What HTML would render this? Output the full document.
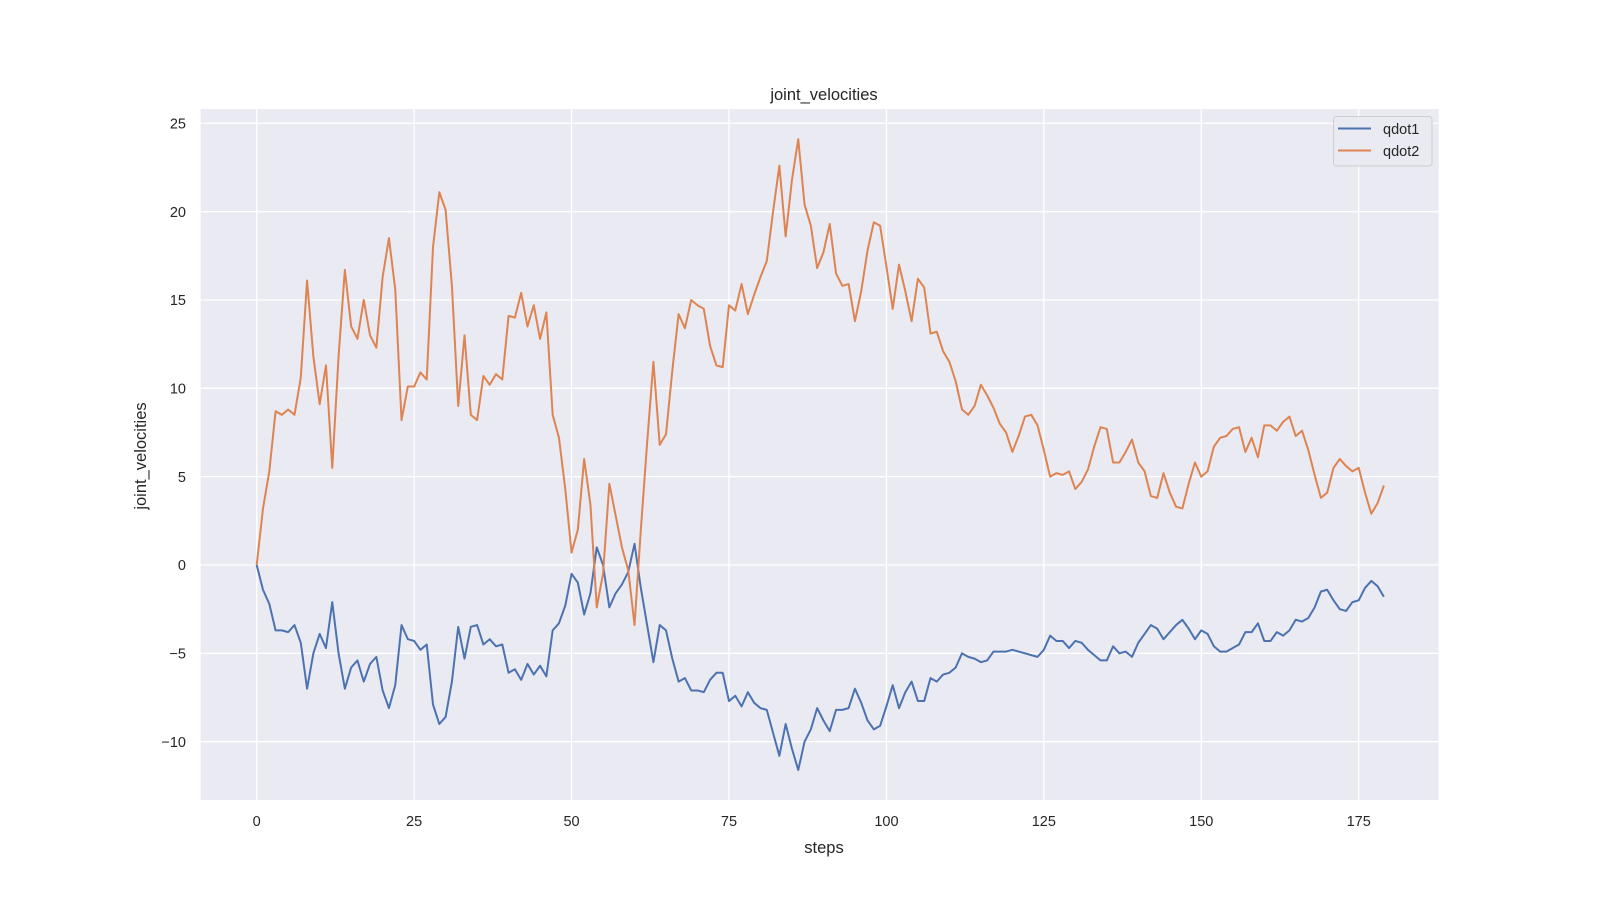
<!DOCTYPE html>
<html><head><meta charset="utf-8"><style>
html,body{margin:0;padding:0;background:#fff;}
svg text{font-family:"Liberation Sans","DejaVu Sans",sans-serif;fill:#262626;}
</style></head><body>
<svg id="chart" width="1600" height="900" xmlns="http://www.w3.org/2000/svg">
<rect x="200.7" y="109" width="1238" height="691" fill="#eaeaf2"/>
<g id="grid"></g>
<g id="ticks"></g>
<g id="lines"></g>
<text x="824" y="100" text-anchor="middle" font-size="16.5">joint_velocities</text>
<text x="824" y="853" text-anchor="middle" font-size="16.5">steps</text>
<text transform="translate(146,456) rotate(-90)" text-anchor="middle" font-size="16.5">joint_velocities</text>
<g>
<rect x="1333.5" y="116.5" width="98.5" height="49.5" rx="3" fill="#eaeaf2" stroke="#cccccc" opacity="0.9"/>
<g><line x1="1338" y1="128.5" x2="1371" y2="128.5" stroke="#4c72b0" stroke-width="2"/><text x="1383" y="134" font-size="14.5">qdot1</text></g>
<g><line x1="1338" y1="150.5" x2="1371" y2="150.5" stroke="#dd8452" stroke-width="2"/><text x="1383" y="156" font-size="14.5">qdot2</text></g>
</g>
</svg>
<script>
const xTicks=[0,25,50,75,100,125,150,175];
const yTicks=[-10,-5,0,5,10,15,20,25];
const yTickLabels=["\u221210","\u22125","0","5","10","15","20","25"];
const qdot1=[0,-1.4,-2.2,-3.7,-3.7,-3.8,-3.4,-4.4,-7.0,-5.0,-3.9,-4.7,-2.1,-5.0,-7.0,-5.8,-5.4,-6.6,-5.6,-5.2,-7.1,-8.1,-6.8,-3.4,-4.2,-4.3,-4.8,-4.5,-7.9,-9.0,-8.6,-6.6,-3.5,-5.3,-3.5,-3.4,-4.5,-4.2,-4.6,-4.5,-6.1,-5.9,-6.5,-5.6,-6.2,-5.7,-6.3,-3.7,-3.3,-2.3,-0.5,-1.0,-2.8,-1.6,1.0,0.0,-2.4,-1.6,-1.1,-0.4,1.2,-1.3,-3.4,-5.5,-3.4,-3.7,-5.3,-6.6,-6.4,-7.1,-7.1,-7.2,-6.5,-6.1,-6.1,-7.7,-7.4,-8.0,-7.2,-7.8,-8.1,-8.2,-9.5,-10.8,-9.0,-10.4,-11.6,-10.0,-9.3,-8.1,-8.8,-9.4,-8.2,-8.2,-8.1,-7.0,-7.8,-8.8,-9.3,-9.1,-8.0,-6.8,-8.1,-7.2,-6.6,-7.7,-7.7,-6.4,-6.6,-6.2,-6.1,-5.8,-5.0,-5.2,-5.3,-5.5,-5.4,-4.9,-4.9,-4.9,-4.8,-4.9,-5.0,-5.1,-5.2,-4.8,-4.0,-4.3,-4.3,-4.7,-4.3,-4.4,-4.8,-5.1,-5.4,-5.4,-4.6,-5.0,-4.9,-5.2,-4.4,-3.9,-3.4,-3.6,-4.2,-3.8,-3.4,-3.1,-3.6,-4.2,-3.7,-3.9,-4.6,-4.9,-4.9,-4.7,-4.5,-3.8,-3.8,-3.3,-4.3,-4.3,-3.8,-4.0,-3.7,-3.1,-3.2,-3.0,-2.4,-1.5,-1.4,-2.0,-2.5,-2.6,-2.1,-2.0,-1.3,-0.9,-1.2,-1.8];
const qdot2=[0,3.2,5.3,8.7,8.5,8.8,8.5,10.6,16.1,11.8,9.1,11.3,5.5,11.8,16.7,13.5,12.8,15.0,13.0,12.3,16.3,18.5,15.6,8.2,10.1,10.1,10.9,10.5,18.0,21.1,20.1,15.8,9.0,13.0,8.5,8.2,10.7,10.2,10.8,10.5,14.1,14.0,15.4,13.5,14.7,12.8,14.3,8.5,7.2,4.3,0.7,2.0,6.0,3.4,-2.4,-0.5,4.6,2.8,1.0,-0.3,-3.4,2.0,6.9,11.5,6.8,7.4,11.0,14.2,13.4,15.0,14.7,14.5,12.4,11.3,11.2,14.7,14.4,15.9,14.2,15.3,16.3,17.2,20.0,22.6,18.6,21.8,24.1,20.4,19.2,16.8,17.7,19.3,16.5,15.8,15.9,13.8,15.5,17.8,19.4,19.2,16.9,14.5,17.0,15.5,13.8,16.2,15.7,13.1,13.2,12.1,11.5,10.4,8.8,8.5,9.0,10.2,9.6,8.9,8.0,7.5,6.4,7.3,8.4,8.5,7.9,6.5,5.0,5.2,5.1,5.3,4.3,4.7,5.4,6.7,7.8,7.7,5.8,5.8,6.4,7.1,5.8,5.3,3.9,3.8,5.2,4.1,3.3,3.2,4.6,5.8,5.0,5.3,6.7,7.2,7.3,7.7,7.8,6.4,7.2,6.1,7.9,7.9,7.6,8.1,8.4,7.3,7.6,6.5,5.1,3.8,4.1,5.5,6.0,5.6,5.3,5.5,4.1,2.9,3.5,4.5];
const NS='http://www.w3.org/2000/svg';
function xs(v){return 256.7+v*(1358.7-256.7)/175;}
function ys(v){return 565-v*(741.7-123.3)/35;}
const grid=document.getElementById('grid'),ticks=document.getElementById('ticks'),lines=document.getElementById('lines');
xTicks.forEach(t=>{
  const l=document.createElementNS(NS,'line');
  l.setAttribute('x1',xs(t));l.setAttribute('x2',xs(t));l.setAttribute('y1',109);l.setAttribute('y2',800);
  l.setAttribute('stroke','#fff');l.setAttribute('stroke-width','1.3');
  
  
  grid.appendChild(l);
  const tx=document.createElementNS(NS,'text');
  tx.setAttribute('x',xs(t));tx.setAttribute('y',826);tx.setAttribute('text-anchor','middle');tx.setAttribute('font-size','14.5');
  tx.textContent=t;
  
  
  ticks.appendChild(tx);
});
yTicks.forEach((t,i)=>{
  const l=document.createElementNS(NS,'line');
  l.setAttribute('x1',200.7);l.setAttribute('x2',1438.7);l.setAttribute('y1',ys(t));l.setAttribute('y2',ys(t));
  l.setAttribute('stroke','#fff');l.setAttribute('stroke-width','1.3');
  
  
  grid.appendChild(l);
  const tx=document.createElementNS(NS,'text');
  tx.setAttribute('x',186);tx.setAttribute('y',ys(t)+5.2);tx.setAttribute('text-anchor','end');tx.setAttribute('font-size','14.5');
  tx.textContent=yTickLabels[i];
  
  
  ticks.appendChild(tx);
});
function drawLine(arr,color,name){
  const p=document.createElementNS(NS,'polyline');
  p.setAttribute('points',arr.map((v,i)=>xs(i).toFixed(2)+','+ys(v).toFixed(2)).join(' '));
  p.setAttribute('fill','none');p.setAttribute('stroke',color);p.setAttribute('stroke-width','2');p.setAttribute('stroke-linejoin','round');
  
  
  lines.appendChild(p);
}
drawLine(qdot1,'#4c72b0','qdot1-line');
drawLine(qdot2,'#dd8452','qdot2-line');
</script>
</body></html>
